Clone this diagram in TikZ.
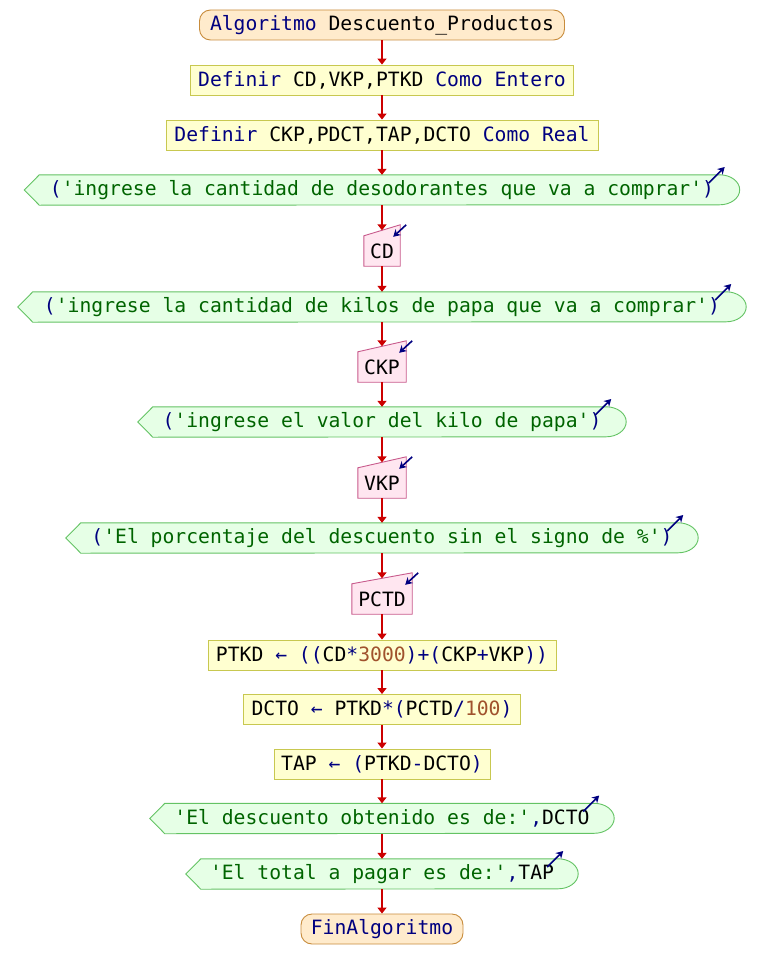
\documentclass[tikz,border=0pt]{standalone}
\usepackage{fontspec}
\setmonofont{DejaVu Sans Mono}
\usetikzlibrary{arrows.meta,calc,backgrounds}
\definecolor{kwc}{RGB}{0,0,128}
\definecolor{strc}{RGB}{0,100,0}
\definecolor{numc}{RGB}{160,82,45}
\definecolor{flowc}{RGB}{204,0,0}
\definecolor{termfill}{RGB}{255,235,204}
\definecolor{termdraw}{RGB}{200,140,60}
\definecolor{procfill}{RGB}{255,255,208}
\definecolor{procdraw}{RGB}{200,200,80}
\definecolor{outfill}{RGB}{230,255,230}
\definecolor{outdraw}{RGB}{100,195,100}
\definecolor{infill}{RGB}{255,230,240}
\definecolor{indraw}{RGB}{200,90,140}
\newcommand{\kw}[1]{\textcolor{kwc}{#1}}
\newcommand{\strg}[1]{\textcolor{strc}{#1}}
\newcommand{\numb}[1]{\textcolor{numc}{#1}}
\tikzset{
  base/.style={font=\ttfamily\fontsize{19.7}{22}\selectfont, inner sep=0pt, minimum height=30pt, anchor=center},
  term/.style={base, draw=termdraw, fill=termfill, rounded corners=11pt, line width=0.9pt},
  proc/.style={base, draw=procdraw, fill=procfill, line width=0.9pt},
  outn/.style={base},
  inn/.style={base},
  outline/.style={draw=outdraw, fill=outfill, line width=0.9pt},
  inline/.style={draw=indraw, fill=infill, line width=0.9pt},
  flow/.style={draw=flowc, line width=1.8pt, -{Triangle[width=9pt,length=6pt]}},
  ioarr/.style={draw=kwc, line width=1.6pt, -{Stealth[width=8pt,length=7pt]}},
}
\begin{document}
\begin{tikzpicture}[x=1pt,y=1pt]
\useasboundingbox (0,0) rectangle (764,-979);

\node[term, minimum width=365pt] (s) at (382,-25) {\kw{Algoritmo} Descuento\_Productos};
\node[proc, minimum width=383pt] (d1) at (382,-80) {\kw{Definir} CD,VKP,PTKD \kw{Como Entero}};
\node[proc, minimum width=432pt] (d2) at (382,-135) {\kw{Definir} CKP,PDCT,TAP,DCTO \kw{Como Real}};

\node[outn, minimum width=715pt] (o1) at (382,-190) {\kw{(}\strg{'ingrese la cantidad de desodorantes que va a comprar'}\kw{)}};
\node[inn, minimum width=36pt] (i1) at (382,-251) {CD};
\node[outn, minimum width=728pt] (o2) at (382,-307) {\kw{(}\strg{'ingrese la cantidad de kilos de papa que va a comprar'}\kw{)}};
\node[inn, minimum width=48pt] (i2) at (382,-367) {CKP};
\node[outn, minimum width=488pt] (o3) at (382,-422) {\kw{(}\strg{'ingrese el valor del kilo de papa'}\kw{)}};
\node[inn, minimum width=48pt] (i3) at (382,-483) {VKP};
\node[outn, minimum width=632pt] (o4) at (382,-538) {\kw{(}\strg{'El porcentaje del descuento sin el signo de \%'}\kw{)}};
\node[inn, minimum width=60pt] (i4) at (382,-599) {PCTD};

\node[proc, minimum width=348pt] (a1) at (382,-655) {PTKD \kw{← ((}CD\kw{*}\numb{3000}\kw{)+(}CKP\kw{+}VKP\kw{))}};
\node[proc, minimum width=277pt] (a2) at (382,-709.5) {DCTO \kw{←} PTKD\kw{*(}PCTD\kw{/}\numb{100}\kw{)}};
\node[proc, minimum width=216pt] (a3) at (382,-764) {TAP \kw{← (}PTKD\kw{-}DCTO\kw{)}};

\node[outn, minimum width=464pt] (o5) at (382,-818.5) {\strg{'El descuento obtenido es de:'}\kw{,}DCTO};
\node[outn, minimum width=392pt] (o6) at (382,-874) {\strg{'El total a pagar es de:'}\kw{,}TAP};
\node[term, minimum width=162pt] (e) at (382,-929) {\kw{FinAlgoritmo}};

\begin{scope}[on background layer]
\foreach \o in {o1,o2,o3,o4,o5,o6}{
  \path[outline] ($(\o.north west)+(15,0)$) -- ($(\o.north east)+(-20,0)$)
    arc[start angle=90,end angle=-90,x radius=20pt,y radius=15pt]
    -- ($(\o.south west)+(15,0)$) -- (\o.west) -- cycle;
}
\foreach \i in {i1,i2,i3,i4}{
  \path[inline] (\i.south west) -- (\i.north west) -- ($(\i.north east)+(0,11)$) -- (\i.south east) -- cycle;
}
\end{scope}

\foreach \i in {i1,i2,i3,i4}{
  \coordinate (\i t) at ($(\i.north)+(0,5.5)$);
}

% flow connectors
\draw[flow] (s.south) -- (d1.north);
\draw[flow] (d1.south) -- (d2.north);
\draw[flow] (d2.south) -- (o1.north);
\draw[flow] (o1.south) -- (i1t);
\draw[flow] (i1.south) -- (o2.north);
\draw[flow] (o2.south) -- (i2t);
\draw[flow] (i2.south) -- (o3.north);
\draw[flow] (o3.south) -- (i3t);
\draw[flow] (i3.south) -- (o4.north);
\draw[flow] (o4.south) -- (i4t);
\draw[flow] (i4.south) -- (a1.north);
\draw[flow] (a1.south) -- (a2.north);
\draw[flow] (a2.south) -- (a3.north);
\draw[flow] (a3.south) -- (o5.north);
\draw[flow] (o5.south) -- (o6.north);
\draw[flow] (o6.south) -- (e.north);

% input / output markers
\foreach \i in {i1,i2,i3,i4}{
  \coordinate (\i m1) at ($(\i.north east)+(6,11)$);
  \coordinate (\i m2) at ($(\i.north east)+(-7,-1)$);
  \draw[ioarr] (\i m1) -- (\i m2);
}
\foreach \o in {o1,o2,o3,o4,o5,o6}{
  \coordinate (\o m1) at ($(\o.east)+(-31,7)$);
  \coordinate (\o m2) at ($(\o.east)+(-15,23)$);
  \draw[ioarr] (\o m1) -- (\o m2);
}
\end{tikzpicture}
\end{document}
